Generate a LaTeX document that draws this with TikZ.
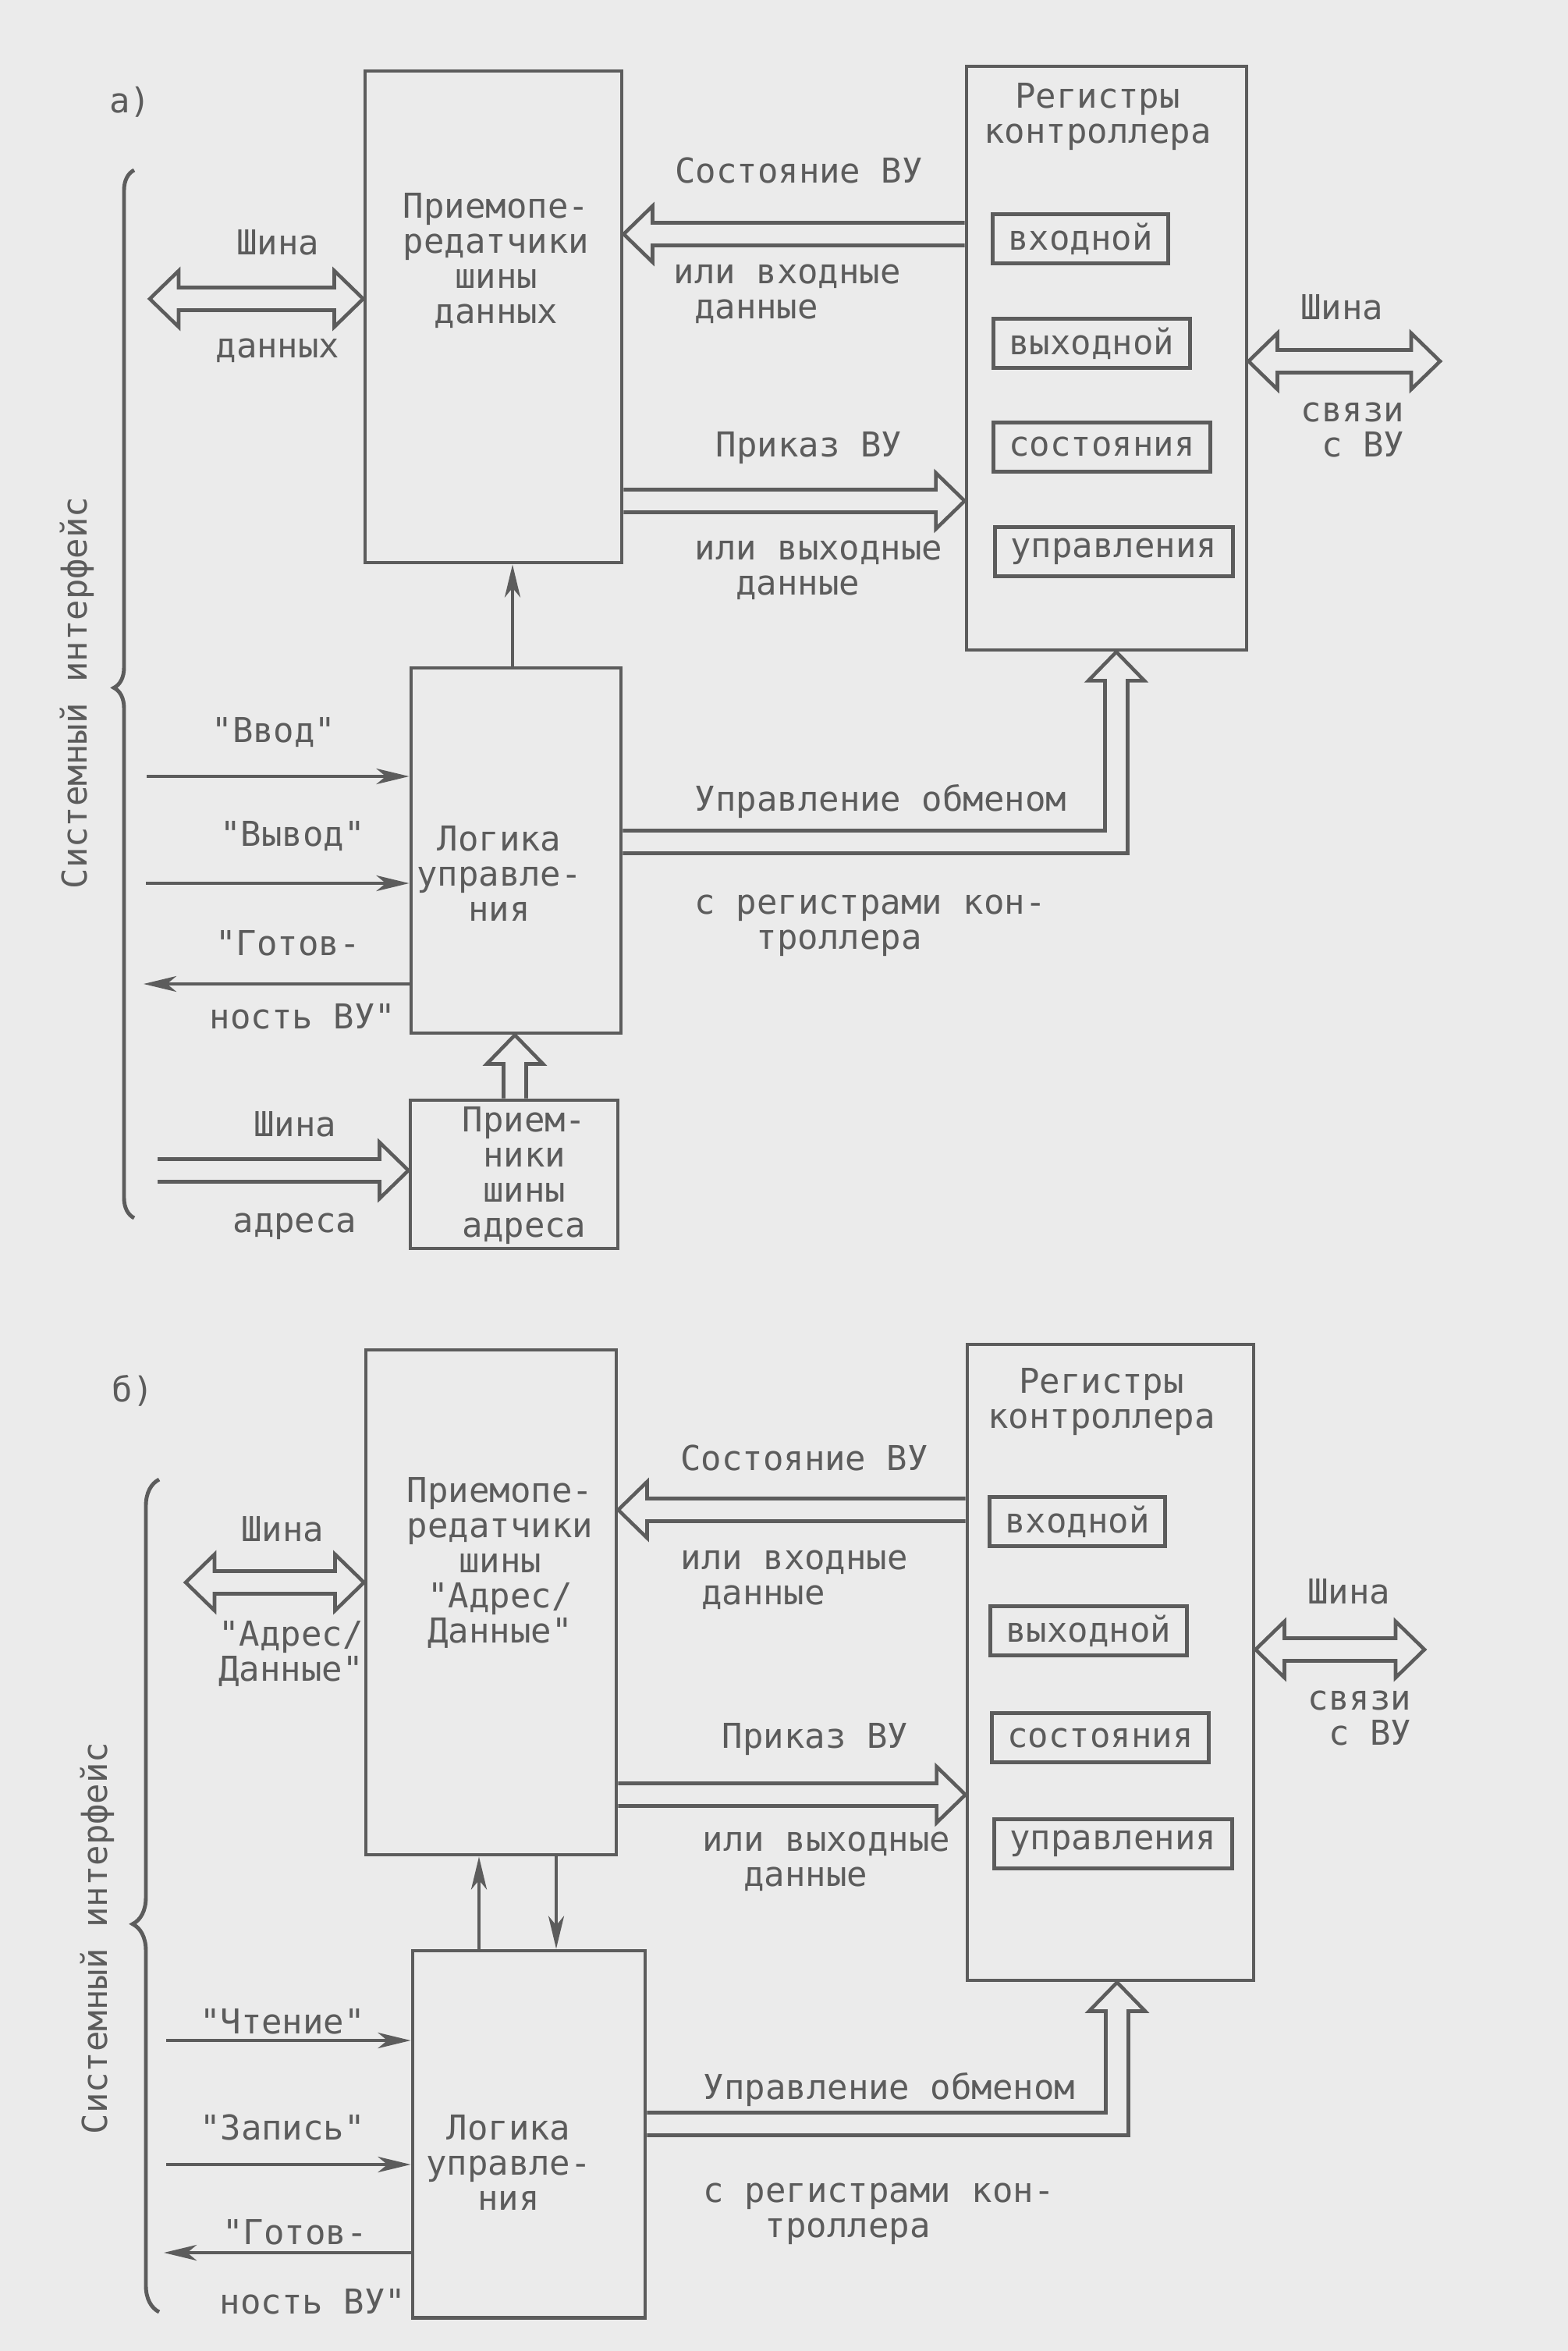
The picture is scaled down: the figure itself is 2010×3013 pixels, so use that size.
\documentclass[tikz,border=0pt]{standalone}
\usepackage{fontspec}
\setmonofont{DejaVu Sans Mono}
\usepackage{tikz}
\usetikzlibrary{calc,fit,arrows.meta}
\usetikzlibrary{decorations.pathreplacing}

\definecolor{ink}{RGB}{92,92,92}
\definecolor{paper}{RGB}{235,235,235}

\tikzset{
  blk/.style={draw=ink, line width=1.4pt, inner sep=0pt},
  reg/.style={draw=ink, line width=1.4pt, anchor=west, inner xsep=0.2cm, inner ysep=0pt, minimum height=0.63cm},
  fat/.style={draw=ink, line width=1.3pt, line join=miter},
  sig/.style={draw=ink, line width=1.3pt, -{Stealth[length=0.42cm,width=0.2cm,inset=0.12cm]}},
  brc/.style={draw=ink, line width=1.4pt, decorate},
}

% hollow arrow: shaft from #1, head at #2
\newcommand{\fatarrow}[2]{%
  \path (#1) coordinate (f1) (#2) coordinate (f2);
  \path ($(f2)!0.37cm!(f1)$) coordinate (fb);
  \draw[fat] ($(f1)!0.145cm!90:(f2)$) -- ($(fb)!0.145cm!90:(f2)$) -- ($(fb)!0.36cm!90:(f2)$) -- (f2)
    -- ($(fb)!0.36cm!-90:(f2)$) -- ($(fb)!0.145cm!-90:(f2)$) -- ($(f1)!0.145cm!-90:(f2)$);
}
% hollow arrow with two heads
\newcommand{\fatboth}[2]{%
  \path (#1) coordinate (f1) (#2) coordinate (f2);
  \path ($(f2)!0.37cm!(f1)$) coordinate (fb) ($(f1)!0.37cm!(f2)$) coordinate (fa);
  \draw[fat] (f1) -- ($(fa)!0.36cm!90:(f2)$) -- ($(fa)!0.145cm!90:(f2)$) -- ($(fb)!0.145cm!90:(f2)$)
    -- ($(fb)!0.36cm!90:(f2)$) -- (f2) -- ($(fb)!0.36cm!-90:(f2)$) -- ($(fb)!0.145cm!-90:(f2)$)
    -- ($(fa)!0.145cm!-90:(f2)$) -- ($(fa)!0.36cm!-90:(f2)$) -- cycle;
}
% hollow arrow going right from #1, then up to the head at #2
\newcommand{\fatcorner}[2]{%
  \path (#1) coordinate (f1) (#2) coordinate (f2);
  \draw[fat] ($(f1)+(0,-14.5)$) -| ($(f2)+(-14.5,37)$) -- ++(-21.5,0) -- (f2) -- ++(36,37)
    -- ++(-21.5,0) |- ($(f1)+(0,14.5)$);
}

\begin{document}
\begin{tikzpicture}[x=0.01cm, y=-0.01cm,
    font=\ttfamily\fontsize{12.5}{12.8}\selectfont,
    every node/.style={text=ink, inner sep=0pt}]
  \path[use as bounding box, fill=paper] (0,0) rectangle (2010,3013);

  % a)
  \node (taga) at (167,131) {а)};
  \node[blk, fit={(468,91) (797,721)}] (traa) {};
  \node[align=center] (traa-t) at (636,334) {Приемопе-\\редатчики\\шины\\данных};
  \node[blk, fit={(1239,85) (1598,833)}] (rega) {};
  \node[align=center] (rega-t) at (1407,150) {Регистры\\контроллера};
  \node[reg] (rina) at (1270,306) {входной};
  \node[reg] (routa) at (1271,440) {выходной};
  \node[reg] (rsta) at (1271,573) {состояния};
  \node[reg] (rctla) at (1273,707) {управления};
  \node[blk, fit={(527,856) (796,1324)}] (loga) {};
  \node[align=center] (loga-t) at (640,1119) {Логика\\управле-\\ния};
  \node[blk, fit={(526,1410) (792,1600)}] (rcva) {};
  \node[align=center] (rcva-t) at (672,1507) {Прием-\\ники\\шины\\адреса};

  \draw[brc, decoration={brace, amplitude=0.26cm, aspect=0.506}] (172,1561) -- (172,218);
  \node[rotate=90] (sysa) at (99,888) {Системный интерфейс};

  \coordinate (busa) at (192,383);
  \fatboth{busa}{traa.west |- busa}
  \node (busa-t1) at (356,311) {Шина};
  \node (busa-t2) at (356,449) {данных};

  \fatarrow{rega.west |- 0,300}{traa.east |- 0,300}
  \node (stsa-t) at (1024,219) {Состояние ВУ};
  \node[align=left, anchor=west] (stsa-d) at (863,377) {или входные\\\hspace*{0.6em}данные};

  \fatarrow{traa.east |- 0,642}{rega.west |- 0,642}
  \node (cmda-t) at (1037,574) {Приказ ВУ};
  \node[align=left, anchor=west] (cmda-d) at (890,731) {или выходные\\\hspace*{1.2em}данные};

  \coordinate (exta) at (1846,463);
  \fatboth{rega.east |- exta}{exta}
  \node (exta-t1) at (1720,394) {Шина};
  \node[align=left, anchor=west] (exta-t2) at (1667,551) {связи\\\hspace*{0.6em}с ВУ};

  \draw[sig] (loga.north -| 657,0) -- (traa.south -| 657,0);

  \coordinate (ina) at (188,995);
  \draw[sig] (ina) -- (loga.west |- ina);
  \node (ina-t) at (351,939) {"Ввод"};
  \coordinate (outa) at (187,1132);
  \draw[sig] (outa) -- (loga.west |- outa);
  \node (outa-t) at (375,1072) {"Вывод"};
  \coordinate (rdya) at (184,1261);
  \draw[sig] (loga.west |- rdya) -- (rdya);
  \node (rdya-t1) at (369,1209) {"Готов-};
  \node (rdya-t2) at (388,1303) {ность ВУ"};

  \fatarrow{rcva.north -| 660,0}{loga.south -| 660,0}
  \coordinate (adra) at (202,1500);
  \fatarrow{adra}{rcva.west |- adra}
  \node (adra-t1) at (378,1441) {Шина};
  \node (adra-t2) at (378,1572) {адреса};

  \fatcorner{loga.east |- 0,1079}{rega.south -| 1431,0}
  \node (xcha-t) at (1129,1027) {Управление обменом};
  \node[align=left, anchor=west] (xcha-d) at (890,1186) {с регистрами кон-\\\hspace*{1.8em}троллера};

  % b)
  \node (tagb) at (170,1782) {б)};
  \node[blk, fit={(469,1730) (790,2377)}] (trab) {};
  \node[align=center] (trab-t) at (641,2003) {Приемопе-\\редатчики\\шины\\"Адрес/\\Данные"};
  \node[blk, fit={(1240,1723) (1607,2538)}] (regb) {};
  \node[align=center] (regb-t) at (1412,1797) {Регистры\\контроллера};
  \node[reg] (rinb) at (1266,1950) {входной};
  \node[reg] (routb) at (1267,2090) {выходной};
  \node[reg] (rstb) at (1269,2227) {состояния};
  \node[reg] (rctlb) at (1272,2363) {управления};
  \node[blk, fit={(529,2500) (827,2970)}] (logb) {};
  \node[align=center] (logb-t) at (652,2771) {Логика\\управле-\\ния};

  \draw[brc, decoration={brace, amplitude=0.34cm, aspect=0.466}] (204,2963) -- (204,1896);
  \node[rotate=90] (sysb) at (125,2484) {Системный интерфейс};

  \coordinate (busb) at (238,2028);
  \fatboth{busb}{trab.west |- busb}
  \node (busb-t1) at (362,1960) {Шина};
  \node[align=center] (busb-t2) at (373,2119) {"Адрес/\\Данные"};

  \fatarrow{regb.west |- 0,1935}{trab.east |- 0,1935}
  \node (stsb-t) at (1031,1868) {Состояние ВУ};
  \node[align=left, anchor=west] (stsb-d) at (872,2025) {или входные\\\hspace*{0.6em}данные};

  \fatarrow{trab.east |- 0,2300}{regb.west |- 0,2300}
  \node (cmdb-t) at (1045,2229) {Приказ ВУ};
  \node[align=left, anchor=west] (cmdb-d) at (900,2386) {или выходные\\\hspace*{1.2em}данные};

  \coordinate (extb) at (1826,2114);
  \fatboth{regb.east |- extb}{extb}
  \node (extb-t1) at (1729,2040) {Шина};
  \node[align=left, anchor=west] (extb-t2) at (1676,2202) {связи\\\hspace*{0.6em}с ВУ};

  \draw[sig] (logb.north -| 614,0) -- (trab.south -| 614,0);
  \draw[sig] (trab.south -| 713,0) -- (logb.north -| 713,0);

  \coordinate (rdb) at (213,2615);
  \draw[sig] (rdb) -- (logb.west |- rdb);
  \node (rdb-t) at (362,2591) {"Чтение"};
  \coordinate (wrb) at (213,2774);
  \draw[sig] (wrb) -- (logb.west |- wrb);
  \node (wrb-t) at (362,2726) {"Запись"};
  \coordinate (rdyb) at (210,2887);
  \draw[sig] (logb.west |- rdyb) -- (rdyb);
  \node (rdyb-t1) at (378,2861) {"Готов-};
  \node (rdyb-t2) at (401,2950) {ность ВУ"};

  \fatcorner{logb.east |- 0,2722}{regb.south -| 1432,0}
  \node (xchb-t) at (1140,2678) {Управление обменом};
  \node[align=left, anchor=west] (xchb-d) at (901,2837) {с регистрами кон-\\\hspace*{1.8em}троллера};
\end{tikzpicture}
\end{document}
